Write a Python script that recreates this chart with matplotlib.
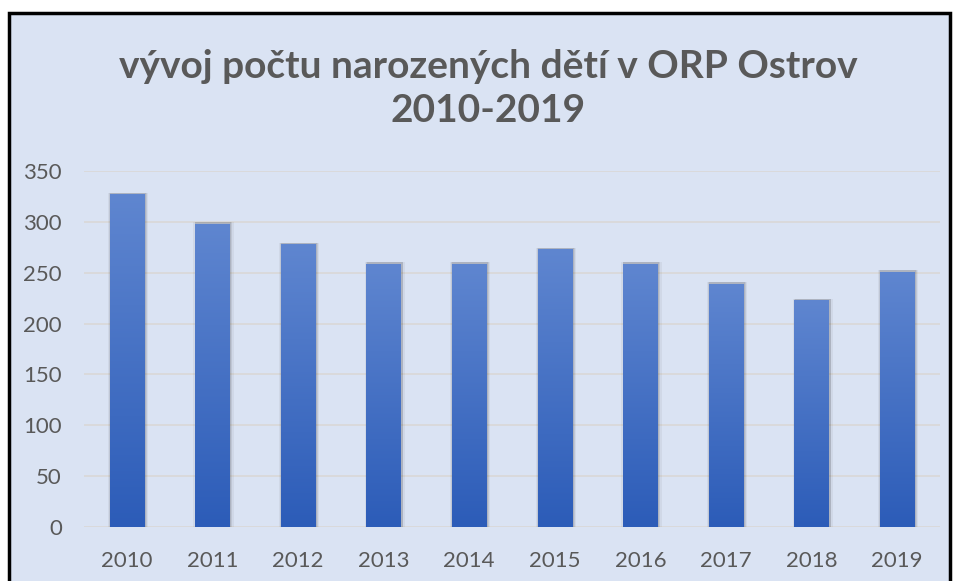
import numpy as np
import matplotlib.pyplot as plt
from matplotlib.patches import Rectangle
from matplotlib.colors import LinearSegmentedColormap

years = ['2010', '2011', '2012', '2013', '2014', '2015', '2016', '2017', '2018', '2019']
births = [327, 298, 278, 259, 259, 273, 259, 239, 223, 251]
y_ticks = [0, 50, 100, 150, 200, 250, 300, 350]

W, H = 956, 581
bg = '#dae3f3'
txt = '#595959'

plt.rcParams['font.family'] = ['Lato', 'DejaVu Sans']

fig = plt.figure(figsize=(W / 100, H / 100), dpi=100, facecolor='white')

# chart frame (the screenshot crops its bottom edge)
frame = Rectangle((9 / W, -0.05), (950 - 9) / W, 1.05 - 13 / H,
                  transform=fig.transFigure, facecolor=bg, edgecolor='black',
                  linewidth=2.5, zorder=-10)
fig.patches.append(frame)

ax = fig.add_axes([84 / W, (H - 527) / H, (940 - 84) / W, (527 - 171) / H])
ax.set_facecolor('none')
x = np.arange(len(years))

cmap = LinearSegmentedColormap.from_list('bar', ['#2c5cb8', '#5f86d0'])
grad = np.linspace(0, 1, 256).reshape(-1, 1)
bw = 0.4
for xi, v in zip(x, births):
    # soft shadow
    for k, a in [(0.07, 0.06), (0.04, 0.10), (0.02, 0.12)]:
        ax.add_patch(Rectangle((xi - bw / 2 - k / 2 + 0.012, 0), bw + k, v + 1.5,
                               facecolor='#303030', alpha=a, edgecolor='none', zorder=2))
    bar = Rectangle((xi - bw / 2, 0), bw, v, facecolor='none', edgecolor='none', zorder=3)
    ax.add_patch(bar)
    im = ax.imshow(grad, cmap=cmap, aspect='auto', origin='lower',
                   extent=(xi - bw / 2, xi + bw / 2, 0, v), zorder=3)
    im.set_clip_path(bar)
ax.set_xlim(-0.5, len(years) - 0.5)
ax.set_ylim(0, 350)

ax.set_yticks(y_ticks)
ax.set_xticks(x)
ax.set_xticklabels(years)
ax.yaxis.grid(True, color='#d9d9d9', linewidth=1.3)
ax.set_axisbelow(True)
for s in ax.spines.values():
    s.set_visible(False)
ax.tick_params(length=0, labelsize=16, labelcolor=txt)
ax.tick_params(axis='y', pad=16)
ax.tick_params(axis='x', pad=17)

fig.text(488 / W, 1 - 67 / H, 'vývoj počtu narozených dětí v ORP Ostrov',
         ha='center', va='center', fontsize=28, fontweight='bold', color=txt)
fig.text(488 / W, 1 - 110 / H, '2010-2019',
         ha='center', va='center', fontsize=28, fontweight='bold', color=txt)

fig.savefig('out.png', dpi=100, facecolor='white')
